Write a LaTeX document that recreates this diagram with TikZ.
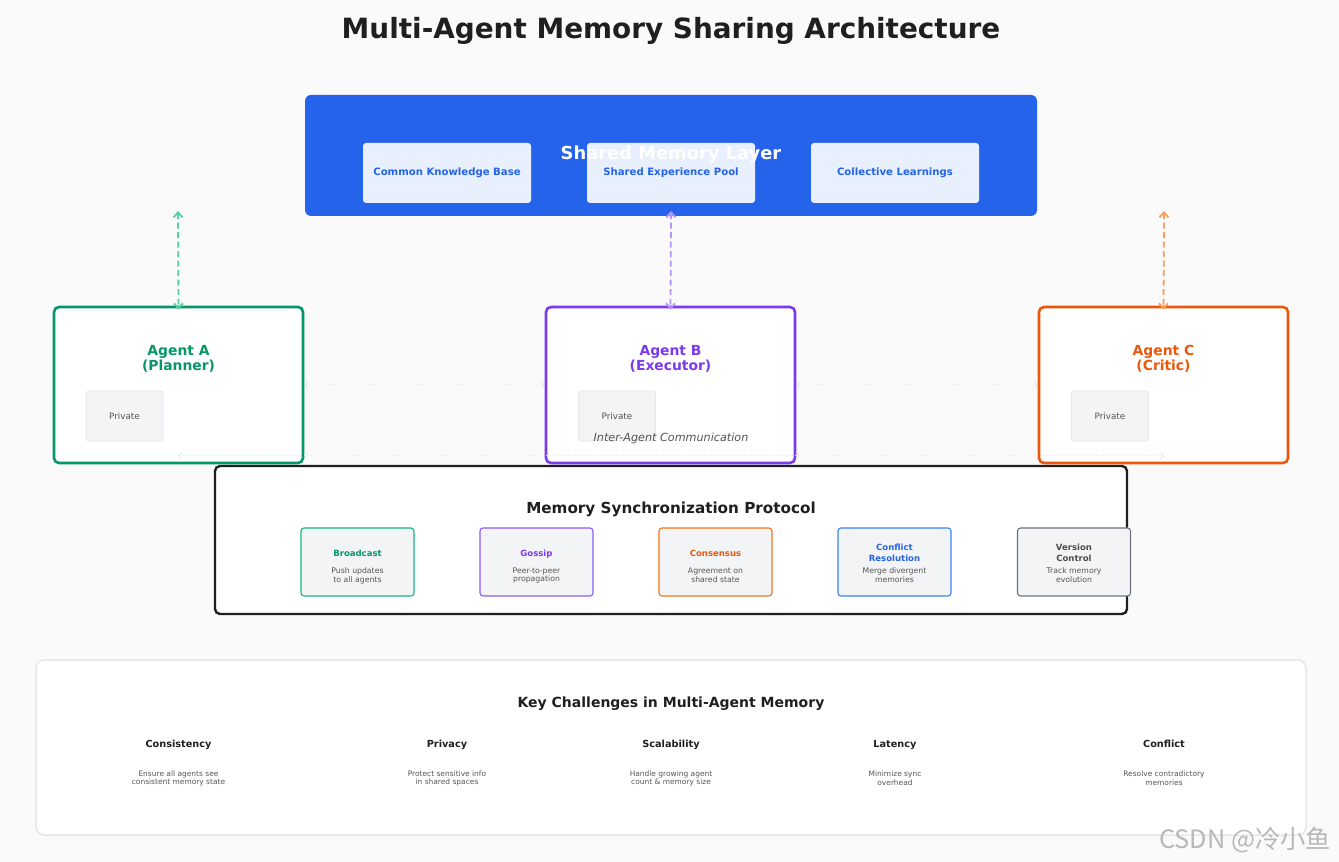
\documentclass[tikz,border=0pt]{standalone}
\usepackage{fontspec}
\setmainfont{DejaVu Sans}
\newfontfamily\cjk{Noto Sans CJK SC}
\usetikzlibrary{arrows.meta}
\def\u{0.75pt}
\definecolor{bgc}{HTML}{FAFAFA}
\definecolor{blueM}{HTML}{2563EB}
\definecolor{blueL}{HTML}{E8F0FD}
\definecolor{greenM}{HTML}{059669}
\definecolor{purpleM}{HTML}{7C3AED}
\definecolor{orangeM}{HTML}{EA580C}
\definecolor{greenS}{HTML}{10B981}
\definecolor{purpleS}{HTML}{8B5CF6}
\definecolor{orangeS}{HTML}{F97316}
\definecolor{blueS}{HTML}{3B82F6}
\definecolor{grayS}{HTML}{6B7280}
\definecolor{grayF}{HTML}{F3F4F6}
\definecolor{grayB}{HTML}{E5E7EB}
\definecolor{darkT}{HTML}{1F1F1F}
\definecolor{descT}{HTML}{555555}
\definecolor{faint}{HTML}{E6E6E6}
\tikzset{
  oneline/.style={text height=0.75em, text depth=0.22em},
  box/.style={draw, rounded corners=5*\u, inner sep=0pt},
  agentbox/.style={box, fill=white, line width=2.6*\u, minimum width=249*\u, minimum height=156*\u},
  innerbox/.style={fill=blueL, rounded corners=3*\u, minimum width=168*\u, minimum height=60*\u, inner sep=0pt,
     text=blueM, font=\bfseries\fontsize{7.6}{9}\selectfont},
  privbox/.style={fill=grayF, draw=grayB, line width=0.8*\u, rounded corners=3*\u, minimum width=77*\u, minimum height=50*\u,
     inner sep=0pt, text=descT, font=\fontsize{6.6}{8}\selectfont},
  agenttitle/.style={font=\bfseries\fontsize{10.4}{11.4}\selectfont, align=center},
  protobox/.style={fill=grayF, line width=1.1*\u, rounded corners=3*\u, minimum width=113*\u, minimum height=68*\u, inner sep=0pt},
  prototitle/.style={font=\bfseries\fontsize{6.4}{8}\selectfont, align=center},
  protodesc/.style={font=\fontsize{5.8}{6.7}\selectfont, align=center, text=descT},
  chtitle/.style={oneline, font=\bfseries\fontsize{7.3}{9}\selectfont, text=darkT},
  chdesc/.style={font=\fontsize{5.6}{6.6}\selectfont, align=center, text=descT},
  sharearrow/.style={dash pattern=on 6*\u off 3.5*\u, line width=1.8*\u, {Straight Barb[length=5*\u,width=9*\u]}-{Straight Barb[length=5*\u,width=9*\u]}},
  commarrow/.style={draw=faint, dotted, line width=1*\u, {Straight Barb[length=3*\u,width=6*\u]}-{Straight Barb[length=3*\u,width=6*\u]}}
}
\begin{document}
\begin{tikzpicture}[x=0.75pt,y=-0.75pt]
\fill[bgc] (0,0) rectangle (1339,862);
\useasboundingbox (0,0) rectangle (1339,862);

\node[font=\bfseries\fontsize{20.9}{24}\selectfont, text=darkT] (title) at (671,31) {Multi-Agent Memory Sharing Architecture};

% Shared memory layer
\node[fill=blueM, rounded corners=6*\u, minimum width=732*\u, minimum height=121*\u, inner sep=0pt] (shared) at (671,155.5) {};
\node[innerbox] (ckb) at (447,173) {Common Knowledge Base};
\node[innerbox] (sep) at (671,173) {Shared Experience Pool};
\node[innerbox] (cl) at (895,173) {Collective Learnings};
\node[font=\bfseries\fontsize{13.4}{15}\selectfont, text=white] (sharedt) at (671,155) {Shared Memory Layer};

% Agents
\node[agentbox, draw=greenM] (A) at (178.5,385) {};
\node[agentbox, draw=purpleM] (B) at (670.5,385) {};
\node[agentbox, draw=orangeM] (C) at (1163.5,385) {};
\node[agenttitle, text=greenM] (At) at (178.5,359) {Agent A\\(Planner)};
\node[agenttitle, text=purpleM] (Bt) at (670.5,359) {Agent B\\(Executor)};
\node[agenttitle, text=orangeM] (Ct) at (1163.5,359) {Agent C\\(Critic)};
\node[privbox] (Ap) at (124.5,416) {Private};
\node[privbox] (Bp) at (617,416) {Private};
\node[privbox] (Cp) at (1110,416) {Private};

% shared arrows
\coordinate (sa) at (178,211);
\coordinate (sb) at (671,211);
\coordinate (sc) at (1164,211);
\draw[sharearrow, draw=greenS!70] (sa) -- ([yshift=-4*\u]A.north);
\draw[sharearrow, draw=purpleS!65] (sb) -- ([yshift=-4*\u]B.north);
\draw[sharearrow, draw=orangeS!70] (sc) -- ([yshift=-4*\u]C.north);

% inter-agent communication
\draw[commarrow] (A.east) -- (B.west);
\draw[commarrow] (B.east) -- (C.west);
\coordinate (ca) at (178,456);
\coordinate (cc) at (1164,456);
\draw[commarrow] (ca) -- (cc);
\node[font=\itshape\fontsize{8.4}{10}\selectfont, text=descT] (ict) at (671,438) {Inter-Agent Communication};

% Sync protocol
\node[box, fill=white, draw=darkT, line width=2.4*\u, minimum width=912*\u, minimum height=148*\u] (sync) at (671,540) {};
\node[font=\bfseries\fontsize{11.4}{13}\selectfont, text=darkT] (synct) at (671,509) {Memory Synchronization Protocol};

\node[protobox, draw=greenS] (p1) at (357.5,562) {};
\node[protobox, draw=purpleS] (p2) at (536.5,562) {};
\node[protobox, draw=orangeS] (p3) at (715.5,562) {};
\node[protobox, draw=blueS] (p4) at (894.5,562) {};
\node[protobox, draw=grayS] (p5) at (1074,562) {};

\node[prototitle, oneline, text=greenM] (p1t) at (357.5,553) {Broadcast};
\node[prototitle, oneline, text=purpleM] (p2t) at (536.5,553) {Gossip};
\node[prototitle, oneline, text=orangeM] (p3t) at (715.5,553) {Consensus};
\node[prototitle, text=blueM] (p4t) at (894.5,553) {Conflict\\Resolution};
\node[prototitle, text=descT!90!black] (p5t) at (1074,553) {Version\\Control};

\node[protodesc] (p1d) at (357.5,575.5) {Push updates\\to all agents};
\node[protodesc] (p2d) at (536.5,575.5) {Peer-to-peer\\propagation};
\node[protodesc] (p3d) at (715.5,575.5) {Agreement on\\shared state};
\node[protodesc] (p4d) at (894.5,575.5) {Merge divergent\\memories};
\node[protodesc] (p5d) at (1074,575.5) {Track memory\\evolution};

% Key challenges
\node[fill=white, draw=grayB, line width=1.5*\u, rounded corners=8*\u, minimum width=1270*\u, minimum height=175*\u, inner sep=0pt] (kc) at (671,747.5) {};
\node[font=\bfseries\fontsize{10.5}{12}\selectfont, text=darkT] (kct) at (671,703.5) {Key Challenges in Multi-Agent Memory};

\node[chtitle] (c1t) at (178.5,743.5) {Consistency};
\node[chtitle] (c2t) at (447,743.5) {Privacy};
\node[chtitle] (c3t) at (671,743.5) {Scalability};
\node[chtitle] (c4t) at (895,743.5) {Latency};
\node[chtitle] (c5t) at (1164,743.5) {Conflict};

\node[chdesc] (c1d) at (178.5,778.5) {Ensure all agents see\\consistent memory state};
\node[chdesc] (c2d) at (447,778.5) {Protect sensitive info\\in shared spaces};
\node[chdesc] (c3d) at (671,778.5) {Handle growing agent\\count \& memory size};
\node[chdesc] (c4d) at (895,778.5) {Minimize sync\\overhead};
\node[chdesc] (c5d) at (1164,778.5) {Resolve contradictory\\memories};

% watermark
\node[font=\cjk\fontsize{19}{21}\selectfont, text=black!28, anchor=east] (wm) at (1336,840) {CSDN @冷小鱼};
\end{tikzpicture}
\end{document}
